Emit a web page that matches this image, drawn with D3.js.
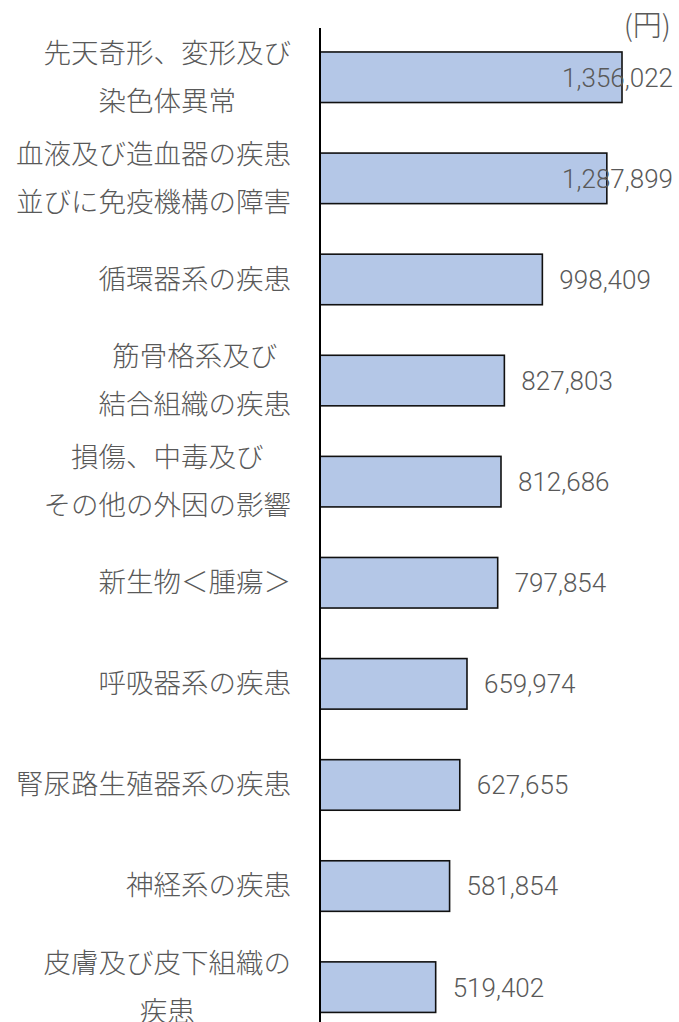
<!DOCTYPE html>
<html>
<head>
<meta charset="utf-8">
<script src="https://cdn.jsdelivr.net/npm/d3@7"></script>
<style>
  body { margin: 0; background: #fff; }
</style>
</head>
<body>
<script>
// categories, each split into the lines shown on the chart
var categories = [
  ["先天奇形、変形及び", "染色体異常"],
  ["血液及び造血器の疾患", "並びに免疫機構の障害"],
  ["循環器系の疾患"],
  ["筋骨格系及び", "結合組織の疾患"],
  ["損傷、中毒及び", "その他の外因の影響"],
  ["新生物＜腫瘍＞"],
  ["呼吸器系の疾患"],
  ["腎尿路生殖器系の疾患"],
  ["神経系の疾患"],
  ["皮膚及び皮下組織の", "疾患"]
];
var values = [1356022, 1287899, 998409, 827803, 812686, 797854, 659974, 627655, 581854, 519402];
var unitLabel = "(円)";

var width = 679, height = 1022;
var axisX = 320, labelRight = 291, valueRight = 673;

var svg = d3.select("body").append("svg")
    .attr("width", width)
    .attr("height", height);

var keys = categories.map(function (d) { return d.join(""); });

var x = d3.scaleLinear().domain([0, 1400000]).range([axisX, axisX + 311.8]);
var y = d3.scaleBand().domain(keys).range([26.7, 1037.7])
    .paddingInner(0.5).paddingOuter(0.25);

// bars
svg.selectAll("rect.bar")
    .data(values)
    .enter()
    .append("rect")
    .attr("class", "bar")
    .attr("x", x(0))
    .attr("y", function (d, i) { return y(keys[i]); })
    .attr("width", function (d) { return x(d) - x(0); })
    .attr("height", y.bandwidth())
    .attr("fill", "#b4c7e7")
    .attr("stroke", "#111")
    .attr("stroke-width", 1.6);

// vertical axis line
svg.append("line")
    .attr("x1", axisX).attr("x2", axisX)
    .attr("y1", 28).attr("y2", height)
    .attr("stroke", "#000")
    .attr("stroke-width", 2);

// category labels: block right aligned, lines centred inside the block
var lineGap = 48;
categories.forEach(function (lines, i) {
  var cy = y(keys[i]) + y.bandwidth() / 2;
  var g = svg.append("g");
  var texts = g.selectAll("text")
      .data(lines)
      .enter()
      .append("text")
      .attr("y", function (d, j) { return cy + (j - (lines.length - 1) / 2) * lineGap; })
      .attr("dy", "0.34em")
      .attr("text-anchor", "middle")
      .attr("font-family", "'Noto Sans CJK JP', sans-serif")
      .attr("font-weight", 300)
      .attr("font-size", "27.5px")
      .attr("fill", "#595959")
      .text(function (d) { return d; });
  var w = 0;
  texts.each(function () { w = Math.max(w, this.getComputedTextLength()); });
  texts.attr("x", labelRight - w / 2);
});

// value labels
svg.selectAll("text.val")
    .data(values)
    .enter()
    .append("text")
    .attr("class", "val")
    .attr("y", function (d, i) { return y(keys[i]) + y.bandwidth() / 2; })
    .attr("dy", "0.36em")
    .attr("font-family", "Roboto, sans-serif")
    .attr("font-weight", 300)
    .attr("font-size", "26px")
    .attr("fill", "#595959")
    .text(function (d) { return d3.format(",")(d); })
    .each(function (d) {
      var w = this.getComputedTextLength();
      d3.select(this).attr("x", Math.min(x(d) + 17, valueRight - w));
    });

// unit
svg.append("text")
    .attr("x", valueRight - 2)
    .attr("y", 26)
    .attr("dy", "0.36em")
    .attr("text-anchor", "end")
    .attr("font-family", "'Noto Sans CJK JP', sans-serif")
    .attr("font-weight", 300)
    .attr("font-size", "29px")
    .attr("fill", "#595959")
    .text(unitLabel);
</script>
</body>
</html>
